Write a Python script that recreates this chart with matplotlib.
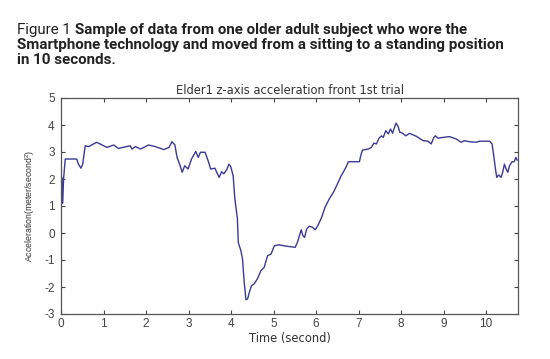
import matplotlib
matplotlib.use("Agg")
import matplotlib.pyplot as plt
import numpy as np

t = [0.0, 0.02, 0.04, 0.06, 0.1, 0.37, 0.41, 0.47, 0.51, 0.57, 0.65, 0.84, 1.08, 1.24, 1.35,
     1.51, 1.63, 1.67, 1.75, 1.87, 2.06, 2.22, 2.42, 2.54, 2.61, 2.68, 2.73, 2.79, 2.85, 2.91,
     2.99, 3.07, 3.17, 3.23, 3.28, 3.39, 3.46, 3.52, 3.62, 3.72, 3.78, 3.83, 3.9, 3.95, 3.99,
     4.05, 4.09, 4.15, 4.17, 4.23, 4.27, 4.31, 4.35, 4.39, 4.43, 4.48, 4.54, 4.62, 4.7, 4.78,
     4.86, 4.94, 5.02, 5.13, 5.31, 5.51, 5.56, 5.61, 5.65, 5.69, 5.73, 5.78, 5.84, 5.92, 5.98,
     6.05, 6.13, 6.21, 6.31, 6.41, 6.5, 6.59, 6.64, 6.72, 6.76, 6.84, 7.02, 7.05, 7.09, 7.23,
     7.3, 7.36, 7.42, 7.48, 7.54, 7.58, 7.64, 7.7, 7.75, 7.8, 7.88, 7.93, 7.97, 8.03, 8.11,
     8.2, 8.36, 8.52, 8.63, 8.71, 8.77, 8.81, 8.87, 8.98, 9.14, 9.3, 9.41, 9.49, 9.61, 9.77,
     9.84, 10.08, 10.14, 10.18, 10.22, 10.25, 10.3, 10.35, 10.39, 10.43, 10.47, 10.51, 10.55,
     10.61, 10.66, 10.7, 10.73]
acc = [0.62, 2.06, 1.1, 2.0, 2.74, 2.74, 2.55, 2.4, 2.55, 3.23, 3.2, 3.36, 3.17, 3.26, 3.13,
       3.19, 3.23, 3.11, 3.2, 3.11, 3.26, 3.2, 3.09, 3.17, 3.38, 3.26, 2.8, 2.55, 2.25, 2.49,
       2.37, 2.74, 3.02, 2.8, 2.99, 2.99, 2.68, 2.37, 2.4, 2.06, 2.27, 2.19, 2.35, 2.55, 2.47,
       2.12, 1.26, 0.52, -0.35, -0.65, -0.96, -1.83, -2.47, -2.44, -2.2, -1.95, -1.89, -1.7, -1.4, -1.27,
       -0.84, -0.78, -0.47, -0.44, -0.49, -0.53, -0.35, -0.1, 0.12, -0.1, -0.16, 0.15, 0.25, 0.21, 0.12,
       0.3, 0.58, 0.95, 1.26, 1.51, 1.81, 2.12, 2.25, 2.49, 2.64, 2.64, 2.64, 2.86, 3.07, 3.11,
       3.17, 3.33, 3.3, 3.51, 3.6, 3.54, 3.79, 3.67, 3.85, 3.7, 4.07, 3.95, 3.73, 3.7, 3.6,
       3.69, 3.58, 3.42, 3.4, 3.3, 3.54, 3.6, 3.51, 3.54, 3.57, 3.48, 3.36, 3.42, 3.38, 3.36,
       3.4, 3.4, 3.3, 2.86, 2.37, 2.06, 2.15, 2.06, 2.25, 2.55, 2.37, 2.25, 2.49,
       2.64, 2.64, 2.8, 2.7]

xticks = list(range(0, 11))
yticks = list(range(-3, 6))
title = "Elder1 z-axis acceleration front 1st trial"
xlabel = "Time (second)"
ylabel = "Acceleration(meter/second$^2$)"
cap_normal = "Figure 1 "
cap_bold = ["Sample of data from one older adult subject who wore the",
            "Smartphone technology and moved from a sitting to a standing position",
            "in 10 seconds."]

plt.rcParams["axes.unicode_minus"] = False
plt.rcParams["mathtext.fontset"] = "custom"
plt.rcParams["mathtext.rm"] = "Liberation Sans"

W, H = 550, 359
fig = plt.figure(figsize=(W / 100, H / 100), dpi=100)
ax = fig.add_axes([61 / W, 1 - 314 / H, (518 - 61) / W, (314 - 98) / H])

ax.plot(t, acc, color="#3a3a96", lw=1.0)
ax.set_xlim(0, 10.75)
ax.set_ylim(-3, 5)
ax.set_xticks(xticks)
ax.set_yticks(yticks)
tick_col = "#444444"
ax.tick_params(direction="in", top=True, right=True, length=3, width=0.8,
               labelsize=8.5, colors=tick_col, pad=3)
ax.tick_params(axis="y", pad=4.5)
for lab in ax.get_xticklabels() + ax.get_yticklabels():
    lab.set_family("Liberation Sans")
for s in ax.spines.values():
    s.set_color("#555555")
    s.set_linewidth(0.9)
ax.set_title(title, fontsize=8.3, family="DejaVu Sans", color="#333333", pad=3)
ax.set_xlabel(xlabel, fontsize=8.3, family="DejaVu Sans", color="#333333", labelpad=1)
ax.set_ylabel(ylabel, fontsize=6.3, family="Liberation Sans",
              color="#333333", labelpad=5)

# caption
fs = 10.9
x0 = 17 / W
ys = [34, 49, 64]
renderer = fig.canvas.get_renderer()
tn = fig.text(x0, 1 - ys[0] / H, cap_normal, fontsize=fs, family="Roboto", color="#222222",
              va="baseline", ha="left")
bb = tn.get_window_extent(renderer)
fig.text(bb.x1 / W, 1 - ys[0] / H, cap_bold[0], fontsize=fs, family="Roboto",
         weight="bold", color="#222222", va="baseline", ha="left")
for line, y in zip(cap_bold[1:], ys[1:]):
    fig.text(x0, 1 - y / H, line, fontsize=fs, family="Roboto", weight="bold",
             color="#222222", va="baseline", ha="left")

fig.savefig("out.png", dpi=100)
